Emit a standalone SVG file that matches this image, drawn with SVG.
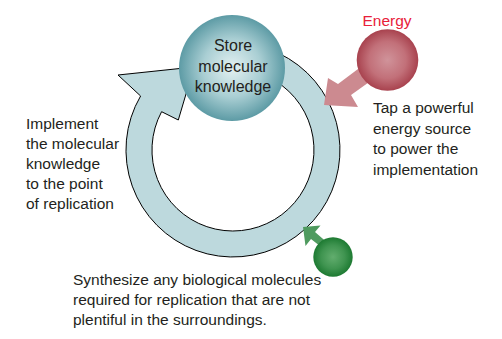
<svg xmlns="http://www.w3.org/2000/svg" width="502" height="339" viewBox="0 0 502 339">
  <defs>
    <radialGradient id="gStore" cx="50%" cy="50%" r="50%">
      <stop offset="0" stop-color="#e4f1f2"/>
      <stop offset="0.55" stop-color="#a9ced3"/>
      <stop offset="1" stop-color="#5d9ba5"/>
    </radialGradient>
    <radialGradient id="gEnergy" cx="50%" cy="50%" r="50%">
      <stop offset="0" stop-color="#d0939a"/>
      <stop offset="0.6" stop-color="#c27079"/>
      <stop offset="1" stop-color="#a8424e"/>
    </radialGradient>
    <radialGradient id="gGreen" cx="50%" cy="50%" r="50%">
      <stop offset="0" stop-color="#62ad6e"/>
      <stop offset="0.6" stop-color="#3f9450"/>
      <stop offset="1" stop-color="#1d7a32"/>
    </radialGradient>
    <style>
      .t { font-family: "Liberation Sans", Arial, sans-serif; font-size: 15.5px; fill: #231f20; }
      .s { font-family: "Liberation Sans", Arial, sans-serif; font-size: 16px; fill: #231f20; }
      .red { font-family: "Liberation Sans", Arial, sans-serif; font-size: 15.5px; fill: #e8203a; }
    </style>
  </defs>
  <rect width="502" height="339" fill="#ffffff"/>

  <g id="connectors">
    <path id="cycle" d="M 233 43 A 107 107 0 1 1 140.6 96 L 118 75 L 194 67 L 178.3 120 L 161.6 111.7 A 81 81 0 1 0 233 69 Z" fill="#bdd9dd" stroke="#000000" stroke-width="1"/>
    <polygon id="energy-arrow" points="324,105 328,78 338,84 362,66 372,80 351,95 358,107" fill="#cc8a90"/>
    <polygon id="synth-arrow" points="303,227 320.5,225.5 315,232 330,245 325,250 311,239 305.5,246" fill="#4f9b5f"/>
  </g>

  <g id="store">
    <circle cx="232" cy="68" r="53" fill="url(#gStore)"/>
    <text class="s" text-anchor="middle"><tspan x="233" y="51">Store</tspan><tspan x="233" y="71.5">molecular</tspan><tspan x="233" y="91.5">knowledge</tspan></text>
  </g>

  <g id="energy">
    <text class="red" x="387" y="26" text-anchor="middle">Energy</text>
    <circle cx="387.5" cy="60" r="30.8" fill="url(#gEnergy)"/>
  </g>

  <g id="tap-text">
    <text class="t"><tspan x="373" y="113">Tap a powerful</tspan><tspan x="373" y="133.5">energy source</tspan><tspan x="373" y="154">to power the</tspan><tspan x="373" y="174.5">implementation</tspan></text>
  </g>

  <g id="implement-text">
    <text class="t"><tspan x="26" y="129">Implement</tspan><tspan x="26" y="149">the molecular</tspan><tspan x="26" y="169">knowledge</tspan><tspan x="26" y="189">to the point</tspan><tspan x="26" y="209">of replication</tspan></text>
  </g>

  <g id="synthesize">
    <circle cx="333" cy="257" r="19.7" fill="url(#gGreen)"/>
    <text class="t"><tspan x="73" y="285">Synthesize any biological molecules</tspan><tspan x="73" y="305">required for replication that are not</tspan><tspan x="73" y="325">plentiful in the surroundings.</tspan></text>
  </g>
</svg>
